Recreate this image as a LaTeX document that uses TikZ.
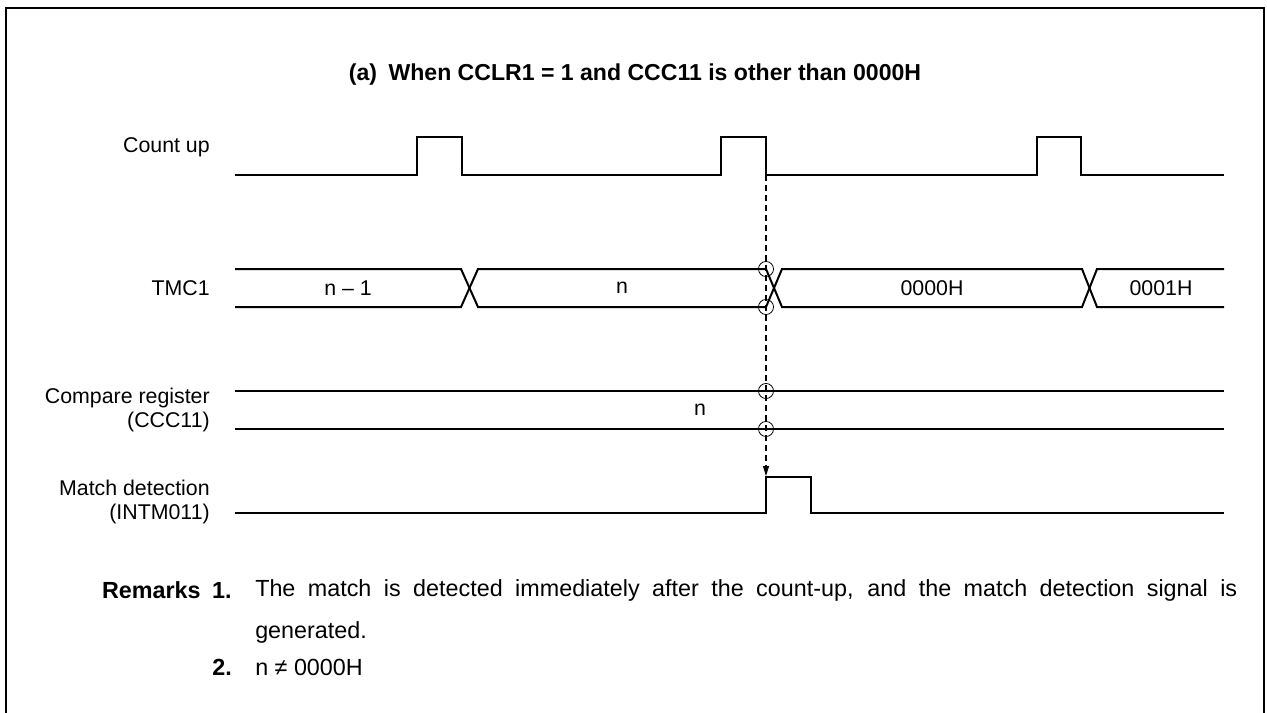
\documentclass[tikz,border=0pt]{standalone}
\usepackage{fontspec}
\setmainfont{Liberation Sans}
\usetikzlibrary{arrows.meta}
\begin{document}
\begin{tikzpicture}[x=0.75pt,y=-0.75pt,
  sig/.style={line width=1.5pt, line join=miter},
  frame/.style={line width=2.2pt},
  ring/.style={draw, line width=0.6pt, circle, minimum size=11.3pt, inner sep=0pt},
  lbl/.style={font=\fontsize{16}{18.5}\selectfont, inner sep=0pt, anchor=east, align=right},
  val/.style={font=\fontsize{16}{18}\selectfont, inner sep=0pt},
  rem/.style={font=\fontsize{17.5}{21}\selectfont, inner sep=0pt},
  dashline/.style={dashed, dash pattern=on 4.5pt off 3pt, line width=0.8pt, -{Triangle[length=7.5pt,width=4.5pt]}}]
\useasboundingbox (0,0) rectangle (1267,713);
% frame
\draw[frame] (6,730) -- (6,8) -- (1264,8) -- (1264,730);
% title
\node[font=\bfseries\fontsize{17.3}{20}\selectfont, inner sep=0pt] (title) at (635,75) {(a)\enspace When CCLR1 = 1 and CCC11 is other than 0000H};
% labels
\node[lbl] (lcount) at (210,147) {Count up};
\node[lbl] (ltmc) at (210,288) {TMC1};
\node[lbl] (lcmp) at (210,410) {Compare register\\(CCC11)};
\node[lbl] (lmatch) at (210,502) {Match detection\\(INTM011)};
% count up
\draw[sig] (235,175) -- (417,175) -- (417,137) -- (462,137) -- (462,175) -- (721,175) -- (721,137) -- (766,137) -- (766,175) -- (1037,175) -- (1037,137) -- (1081,137) -- (1081,175) -- (1224,175);
% TMC1
\draw[sig] (235,269) -- (461,269) -- (478,307) -- (766,307) -- (782,269) -- (1082,269) -- (1097,307) -- (1224,307);
\draw[sig] (235,307) -- (461,307) -- (478,269) -- (766,269) -- (782,307) -- (1082,307) -- (1097,269) -- (1224,269);
\node[val] (v1) at (348,288) {n -- 1};
\node[val] (v2) at (622,288) {n};
\node[val] (v3) at (932,288) {0000H};
\node[val] (v4) at (1161,288) {0001H};
% compare register
\draw[sig] (235,391) -- (1224,391);
\draw[sig] (235,429) -- (1224,429);
\node[val] (v5) at (700,410) {n};
% match detection
\draw[sig] (235,513) -- (766,513) -- (766,477) -- (811,477) -- (811,513) -- (1224,513);
% dashed line
\coordinate (d0) at (766,175);
\coordinate (d1) at (766,476);
\draw[dashline] (d0) -- (d1);
\node[ring] (r1) at (766,269) {};
\node[ring] (r2) at (766,307) {};
\node[ring] (r3) at (766,391) {};
\node[ring] (r4) at (766,429) {};
% remarks
\node[rem, anchor=east] (rk1) at (232,590) {\bfseries Remarks\enspace 1.};
\node[rem, anchor=west] (rt1) at (255,590) {\makebox[736.5pt][s]{The match is detected immediately after the count-up, and the match detection signal is}};
\node[rem, anchor=west] (rt2) at (255,632) {generated.};
\node[rem, anchor=east] (rk2) at (232,667) {\bfseries 2.};
\node[rem, anchor=west] (rt3) at (255,667) {n ≠ 0000H};
\end{tikzpicture}
\end{document}
